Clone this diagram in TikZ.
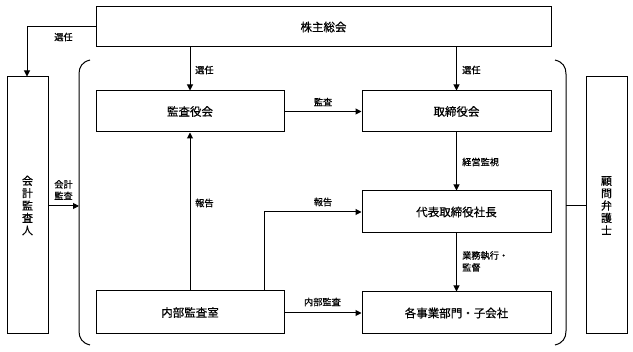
\documentclass[tikz,border=0pt]{standalone}
\usepackage{fontspec}
\setmainfont[FakeBold=0.6]{Noto Sans CJK JP}
\usetikzlibrary{arrows.meta}
\begin{document}
\begin{tikzpicture}[x=1pt,y=-1pt,
  box/.style={draw,line width=1pt,inner sep=0pt,font=\fontsize{11.5}{13}\selectfont},
  lbl/.style={font=\fontsize{9.2}{11}\selectfont,inner sep=0pt},
  arr/.style={line width=1pt,-{Triangle[length=6pt,width=6pt]}},
  ln/.style={line width=1pt}]
\useasboundingbox (0,0) rectangle (633,352);
\node[box,minimum width=455pt,minimum height=40pt] (soukai) at (323.5,27) {株主総会};
\node[box,minimum width=188pt,minimum height=41pt] (kansayaku) at (190,111.5) {監査役会};
\node[box,minimum width=189pt,minimum height=41pt] (torishimari) at (456.5,111.5) {取締役会};
\node[box,minimum width=189pt,minimum height=42pt] (shacho) at (456.5,212) {代表取締役社長};
\node[box,minimum width=189pt,minimum height=42pt] (jigyo) at (456.5,313) {各事業部門・子会社};
\node[box,minimum width=188pt,minimum height=43pt] (naibu) at (190,312.5) {内部監査室};
\node[box,minimum width=41pt,minimum height=257pt,font=\fontsize{11}{12.4}\selectfont,align=center] (kaikei) at (27.5,205.5) {会\\計\\監\\査\\人};
\node[box,minimum width=41pt,minimum height=257pt,font=\fontsize{11}{12.4}\selectfont,align=center] (bengoshi) at (606.5,205.5) {顧\\問\\弁\\護\\士};
% brackets
\draw[ln] (90,60) .. controls (82,62) and (79,67) .. (79,74) -- (79,331) .. controls (79,338) and (82,343) .. (90,345);
\draw[ln] (555,60) .. controls (563,62) and (566,67) .. (566,74) -- (566,331) .. controls (566,338) and (563,343) .. (555,345);
\coordinate (lbr) at (79,206);
\coordinate (rbr) at (566,206);
% connectors
\draw[arr] (soukai.west |- 0,27) -| (kaikei.north -| 27,0);
\node[lbl] at (63.5,37) {選任};
\draw[arr] (soukai.south -| kansayaku.north) -- (kansayaku.north);
\node[lbl,anchor=west] at (195,70) {選任};
\draw[arr] (soukai.south -| torishimari.north) -- (torishimari.north);
\node[lbl,anchor=west] at (462,70) {選任};
\draw[arr] (kansayaku.east) -- (torishimari.west);
\node[lbl] at (323,102) {監査};
\draw[arr] (torishimari.south) -- (shacho.north);
\node[lbl,anchor=west] at (462,162) {経営監視};
\draw[arr] (shacho.south) -- (jigyo.north);
\node[lbl,anchor=north west,align=left,font=\fontsize{9.2}{12}\selectfont] at (462,251) {業務執行・\\監督};
\draw[arr] (naibu.north) -- (kansayaku.south);
\node[lbl,anchor=west] at (195,203) {報告};
\draw[arr] (naibu.north -| 264,0) |- (shacho.west);
\node[lbl] at (323,202) {報告};
\draw[arr] (naibu.east |- 0,313) -- (jigyo.west);
\node[lbl] at (322.5,302) {内部監査};
\draw[arr] (kaikei.east |- lbr) -- (lbr);
\node[lbl,align=center,font=\fontsize{9.2}{11.5}\selectfont] at (63.5,190) {会計\\監査};
\draw[ln] (bengoshi.west |- rbr) -- (rbr);
\end{tikzpicture}
\end{document}
